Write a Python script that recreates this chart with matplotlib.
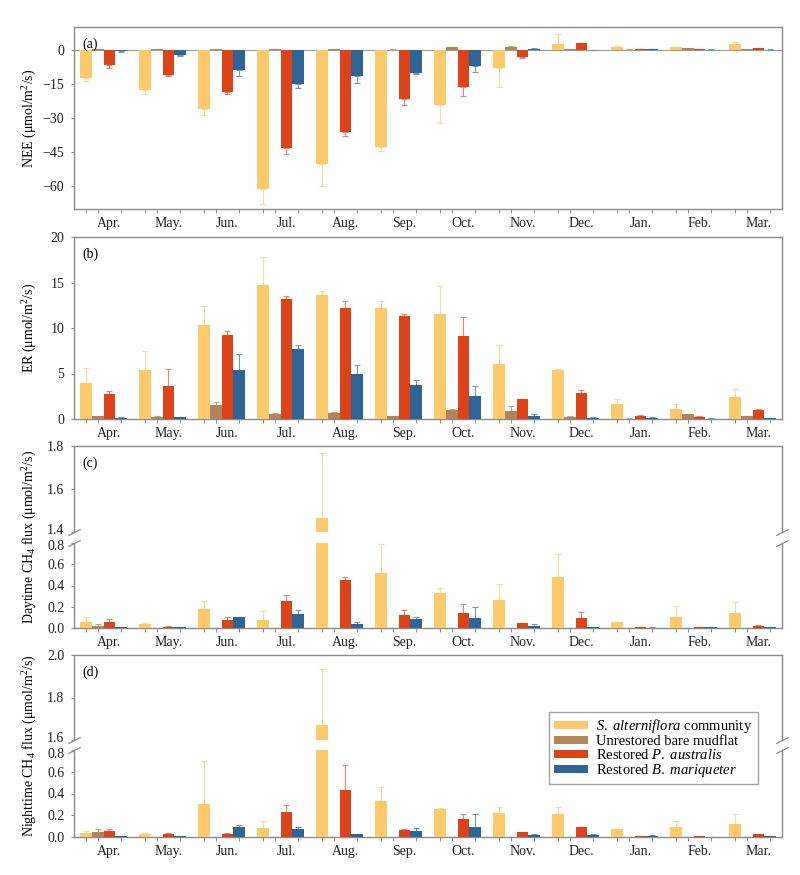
import numpy as np
import matplotlib
matplotlib.use("Agg")
import matplotlib.pyplot as plt
from matplotlib.patches import Patch
from matplotlib.transforms import ScaledTranslation

plt.rcParams['font.family'] = ['Liberation Serif', 'DejaVu Serif']
plt.rcParams['mathtext.fontset'] = 'custom'
plt.rcParams['mathtext.rm'] = 'Liberation Serif'
plt.rcParams['mathtext.it'] = 'Liberation Serif:italic'
plt.rcParams['font.size'] = 10

months = ['Apr.', 'May.', 'Jun.', 'Jul.', 'Aug.', 'Sep.', 'Oct.', 'Nov.', 'Dec.', 'Jan.', 'Feb.', 'Mar.']
series_names = ['$\\it{S.\\ alterniflora}$ community', 'Unrestored bare mudflat',
                'Restored $\\it{P.\\ australis}$', 'Restored $\\it{B.\\ mariqueter}$']

# (a) NEE
nee_sa = [-12.4, -17.5, -26.2, -61.1, -50.4, -42.6, -24.5, -8.0, 2.5, 1.4, 1.2, 2.5]
nee_sa_err = [1.4, 1.9, 2.6, 6.9, 9.3, 1.8, 7.5, 8.3, 4.3, 0.2, 0.2, 1.0]
nee_bm = [0.3, 0.2, 0.2, 0.3, 0.2, 0.1, 1.0, 1.3, 0.2, 0.1, 0.6, 0.3]
nee_bm_err = [0.1, 0.1, 0.1, 0.1, 0.1, 0.05, 0.2, 0.3, 0.05, 0.05, 0.1, 0.05]
nee_pa = [-6.5, -11.0, -18.5, -43.4, -36.0, -21.8, -16.3, -3.2, 2.9, 0.2, 0.3, 0.8]
nee_pa_err = [1.5, 0.4, 1.1, 2.3, 2.1, 2.7, 4.1, 0.4, 0.2, 0.05, 0.05, 0.1]
nee_bmq = [-0.7, -2.5, -9.0, -15.1, -11.5, -10.2, -7.3, 0.5, -0.1, 0.2, 0.1, 0.1]
nee_bmq_err = [0.1, 0.2, 2.6, 1.6, 3.1, 0.6, 2.5, 0.1, 0.05, 0.05, 0.05, 0.05]

# (b) ER
er_sa = [4.0, 5.4, 10.35, 14.7, 13.65, 12.2, 11.5, 6.05, 5.4, 1.65, 1.14, 2.38]
er_sa_err = [1.65, 2.05, 2.1, 3.1, 0.4, 0.8, 3.07, 2.05, 0.1, 0.55, 0.55, 0.96]
er_bm = [0.3, 0.25, 1.58, 0.55, 0.62, 0.3, 1.03, 0.84, 0.25, 0.05, 0.5, 0.3]
er_bm_err = [0.08, 0.08, 0.32, 0.08, 0.18, 0.05, 0.08, 0.55, 0.03, 0.02, 0.1, 0.05]
er_pa = [2.7, 3.67, 9.2, 13.17, 12.2, 11.3, 9.17, 2.17, 2.9, 0.37, 0.22, 1.03]
er_pa_err = [0.38, 1.8, 0.52, 0.33, 0.8, 0.26, 2.03, 0.05, 0.25, 0.08, 0.13, 0.07]
er_bmq = [0.15, 0.2, 5.4, 7.67, 4.92, 3.78, 2.57, 0.37, 0.15, 0.15, 0.05, 0.08]
er_bmq_err = [0.03, 0.03, 1.7, 0.51, 1.06, 0.48, 1.1, 0.18, 0.02, 0.02, 0.01, 0.01]

# (c) daytime CH4
day_sa = [0.056, 0.04, 0.18, 0.078, 1.467, 0.522, 0.334, 0.262, 0.481, 0.053, 0.103, 0.1375]
day_sa_err = [0.044, 0.005, 0.073, 0.078, 0.30, 0.272, 0.038, 0.15, 0.216, 0.003, 0.103, 0.11]
day_bm = [0.022, 0.001, 0.001, 0.001, 0.001, 0.001, 0.001, 0.001, 0.001, 0.001, 0.001, 0.001]
day_bm_err = [0.012, 0, 0, 0, 0, 0, 0, 0, 0, 0, 0, 0]
day_pa = [0.056, 0.01, 0.075, 0.25, 0.45, 0.119, 0.14, 0.047, 0.097, 0.01, 0.005, 0.022]
day_pa_err = [0.028, 0.005, 0.025, 0.056, 0.028, 0.047, 0.082, 0.003, 0.05, 0.002, 0.002, 0.003]
day_bmq = [0.01, 0.005, 0.103, 0.128, 0.034, 0.0875, 0.097, 0.019, 0.005, 0.003, 0.005, 0.005]
day_bmq_err = [0.002, 0.005, 0.002, 0.041, 0.019, 0.019, 0.103, 0.015, 0.002, 0.002, 0.002, 0.002]

# (d) nighttime CH4
night_sa = [0.037, 0.03, 0.30, 0.083, 1.672, 0.332, 0.262, 0.225, 0.212, 0.071, 0.089, 0.117]
night_sa_err = [0.018, 0.003, 0.40, 0.065, 0.263, 0.13, 0.008, 0.052, 0.065, 0.003, 0.062, 0.092]
night_bm = [0.043, 0.001, 0.003, 0.001, 0.001, 0.001, 0.001, 0.001, 0.001, 0.001, 0.001, 0.001]
night_bm_err = [0.034, 0, 0, 0, 0, 0, 0, 0, 0, 0, 0, 0]
night_pa = [0.052, 0.025, 0.03, 0.228, 0.434, 0.068, 0.169, 0.043, 0.089, 0.01, 0.008, 0.025]
night_pa_err = [0.022, 0.015, 0.003, 0.07, 0.226, 0.002, 0.046, 0.006, 0.003, 0.002, 0.002, 0.003]
night_bmq = [0.01, 0.008, 0.095, 0.077, 0.028, 0.055, 0.095, 0.018, 0.015, 0.01, 0.003, 0.005]
night_bmq_err = [0.002, 0.002, 0.019, 0.012, 0.004, 0.031, 0.114, 0.007, 0.013, 0.005, 0.001, 0.001]

colors = ['#FEC96B', '#B3835B', '#DE4219', '#2E6496']
err_colors = ['#F8DA9C', '#C9A07E', '#E9846E', '#7196BE']
spine_color = '#8a8a8a'
offsets = [-0.3, -0.1, 0.1, 0.3]
bar_w = 0.2
x = np.arange(len(months))

W, H = 800, 875
fig = plt.figure(figsize=(W / 100, H / 100), dpi=100)


def add_axes_px(left, top, right, bottom):
    return fig.add_axes([left / W, 1 - bottom / H, (right - left) / W, (bottom - top) / H])


def draw_bars(ax, groups):
    for i, (vals, errs) in enumerate(groups):
        vals = np.array(vals)
        errs = np.array(errs)
        xs = x + offsets[i]
        ax.bar(xs, vals, bar_w, color=colors[i], edgecolor='none', zorder=3)
        # error bars point away from zero
        lo = np.where(vals < 0, errs, 0)
        hi = np.where(vals >= 0, errs, 0)
        ax.errorbar(xs, vals, yerr=[lo, hi], fmt='none', ecolor=err_colors[i],
                    elinewidth=0.8, capsize=2.5, capthick=0.8, zorder=2)


def style_axes(ax, show_months=True):
    ax.set_xlim(-0.5, 11.5)
    for s in ax.spines.values():
        s.set_color(spine_color)
        s.set_linewidth(1.0)
    ax.tick_params(axis='y', length=2, width=0.8, color=spine_color, pad=5, labelsize=10, labelcolor='#222222')
    if show_months:
        ax.set_xticks(x + 0.1)
        ax.set_xticklabels(months)
        ax.set_xticks((x[:, None] + np.array(offsets)[None, :]).ravel(), minor=True)
        ax.tick_params(axis='x', which='major', length=0, pad=6, labelsize=10, labelcolor='#222222')
        ax.tick_params(axis='x', which='minor', length=3, width=0.7, color=spine_color)
    else:
        ax.set_xticks([])


def break_marks(ax_top, ax_bot):
    kw = dict(marker=[(-1, -0.5), (1, 0.5)], markersize=9, linestyle='none',
              color=spine_color, mec=spine_color, mew=0.9, clip_on=False)
    ax_top.plot([0, 1], [0, 0], transform=ax_top.transAxes, **kw)
    ax_bot.plot([0, 1], [1, 1], transform=ax_bot.transAxes, **kw)


def nudge_break_labels(ax_top, ax_bot, shift_px=2.5):
    # push the two tick labels at the break apart a little
    fig.canvas.draw()
    up = ScaledTranslation(0, shift_px / 100, fig.dpi_scale_trans)
    down = ScaledTranslation(0, -shift_px / 100, fig.dpi_scale_trans)
    lab = ax_top.get_yticklabels()[0]
    lab.set_transform(lab.get_transform() + up)
    lab = ax_bot.get_yticklabels()[-1]
    lab.set_transform(lab.get_transform() + down)


L, R = 74, 782
label_x = 30 / W

# (a)
ax_a = add_axes_px(L, 27, R, 209)
draw_bars(ax_a, [(nee_sa, nee_sa_err), (nee_bm, nee_bm_err), (nee_pa, nee_pa_err), (nee_bmq, nee_bmq_err)])
ax_a.axhline(0, color='#9a9a9a', lw=0.8, zorder=1)
ax_a.set_ylim(-70, 10)
ax_a.set_yticks([-60, -45, -30, -15, 0])
style_axes(ax_a)
ax_a.text(0.012, 0.94, '(a)', transform=ax_a.transAxes, ha='left', va='top', fontsize=10)
fig.text(label_x, 1 - 118 / H, 'NEE (μmol/m$^2$/s)', rotation=90, ha='center', va='center', fontsize=10)

# (b)
ax_b = add_axes_px(L, 237, R, 419)
draw_bars(ax_b, [(er_sa, er_sa_err), (er_bm, er_bm_err), (er_pa, er_pa_err), (er_bmq, er_bmq_err)])
ax_b.set_ylim(0, 20)
ax_b.set_yticks([0, 5, 10, 15, 20])
style_axes(ax_b)
ax_b.text(0.012, 0.94, '(b)', transform=ax_b.transAxes, ha='left', va='top', fontsize=10)
fig.text(label_x, 1 - 328 / H, 'ER (μmol/m$^2$/s)', rotation=90, ha='center', va='center', fontsize=10)

# (c) broken axis
day_groups = [(day_sa, day_sa_err), (day_bm, day_bm_err), (day_pa, day_pa_err), (day_bmq, day_bmq_err)]
ax_c1 = add_axes_px(L, 446, R, 532)
ax_c2 = add_axes_px(L, 543, R, 628)
for ax in (ax_c1, ax_c2):
    draw_bars(ax, day_groups)
ax_c1.set_ylim(1.4, 1.8)
ax_c1.set_yticks([1.4, 1.6, 1.8])
ax_c2.set_ylim(0, 0.8)
ax_c2.set_yticks([0.0, 0.2, 0.4, 0.6, 0.8])
style_axes(ax_c1, show_months=False)
style_axes(ax_c2)
ax_c1.spines['bottom'].set_visible(False)
ax_c2.spines['top'].set_visible(False)
for ax in (ax_c1, ax_c2):
    ax.yaxis.set_major_formatter(plt.FormatStrFormatter('%.1f'))
break_marks(ax_c1, ax_c2)
ax_c1.text(0.012, 0.88, '(c)', transform=ax_c1.transAxes, ha='left', va='top', fontsize=10)
fig.text(label_x, 1 - 537 / H, 'Daytime CH$_4$ flux (μmol/m$^2$/s)', rotation=90, ha='center', va='center', fontsize=10)

# (d) broken axis
night_groups = [(night_sa, night_sa_err), (night_bm, night_bm_err), (night_pa, night_pa_err), (night_bmq, night_bmq_err)]
ax_d1 = add_axes_px(L, 655, R, 740)
ax_d2 = add_axes_px(L, 750, R, 837)
for ax in (ax_d1, ax_d2):
    draw_bars(ax, night_groups)
ax_d1.set_ylim(1.6, 2.0)
ax_d1.set_yticks([1.6, 1.8, 2.0])
ax_d2.set_ylim(0, 0.8)
ax_d2.set_yticks([0.0, 0.2, 0.4, 0.6, 0.8])
style_axes(ax_d1, show_months=False)
style_axes(ax_d2)
ax_d1.spines['bottom'].set_visible(False)
ax_d2.spines['top'].set_visible(False)
for ax in (ax_d1, ax_d2):
    ax.yaxis.set_major_formatter(plt.FormatStrFormatter('%.1f'))
break_marks(ax_d1, ax_d2)
ax_d1.text(0.012, 0.88, '(d)', transform=ax_d1.transAxes, ha='left', va='top', fontsize=10)
fig.text(label_x, 1 - 746 / H, 'Nighttime CH$_4$ flux (μmol/m$^2$/s)', rotation=90, ha='center', va='center', fontsize=10)

nudge_break_labels(ax_c1, ax_c2)
nudge_break_labels(ax_d1, ax_d2)

# legend
handles = [Patch(facecolor=c, edgecolor='none') for c in colors]
leg = fig.legend(handles, series_names, loc='upper left', bbox_to_anchor=(549 / W, 1 - 712 / H),
                 frameon=True, fancybox=False, fontsize=10.5, handlelength=2.35, handleheight=0.45,
                 handletextpad=0.55, labelspacing=0.0, borderpad=0.35, borderaxespad=0)
leg.get_frame().set_edgecolor(spine_color)
leg.get_frame().set_linewidth(1.0)

fig.savefig('out.png', dpi=100)
